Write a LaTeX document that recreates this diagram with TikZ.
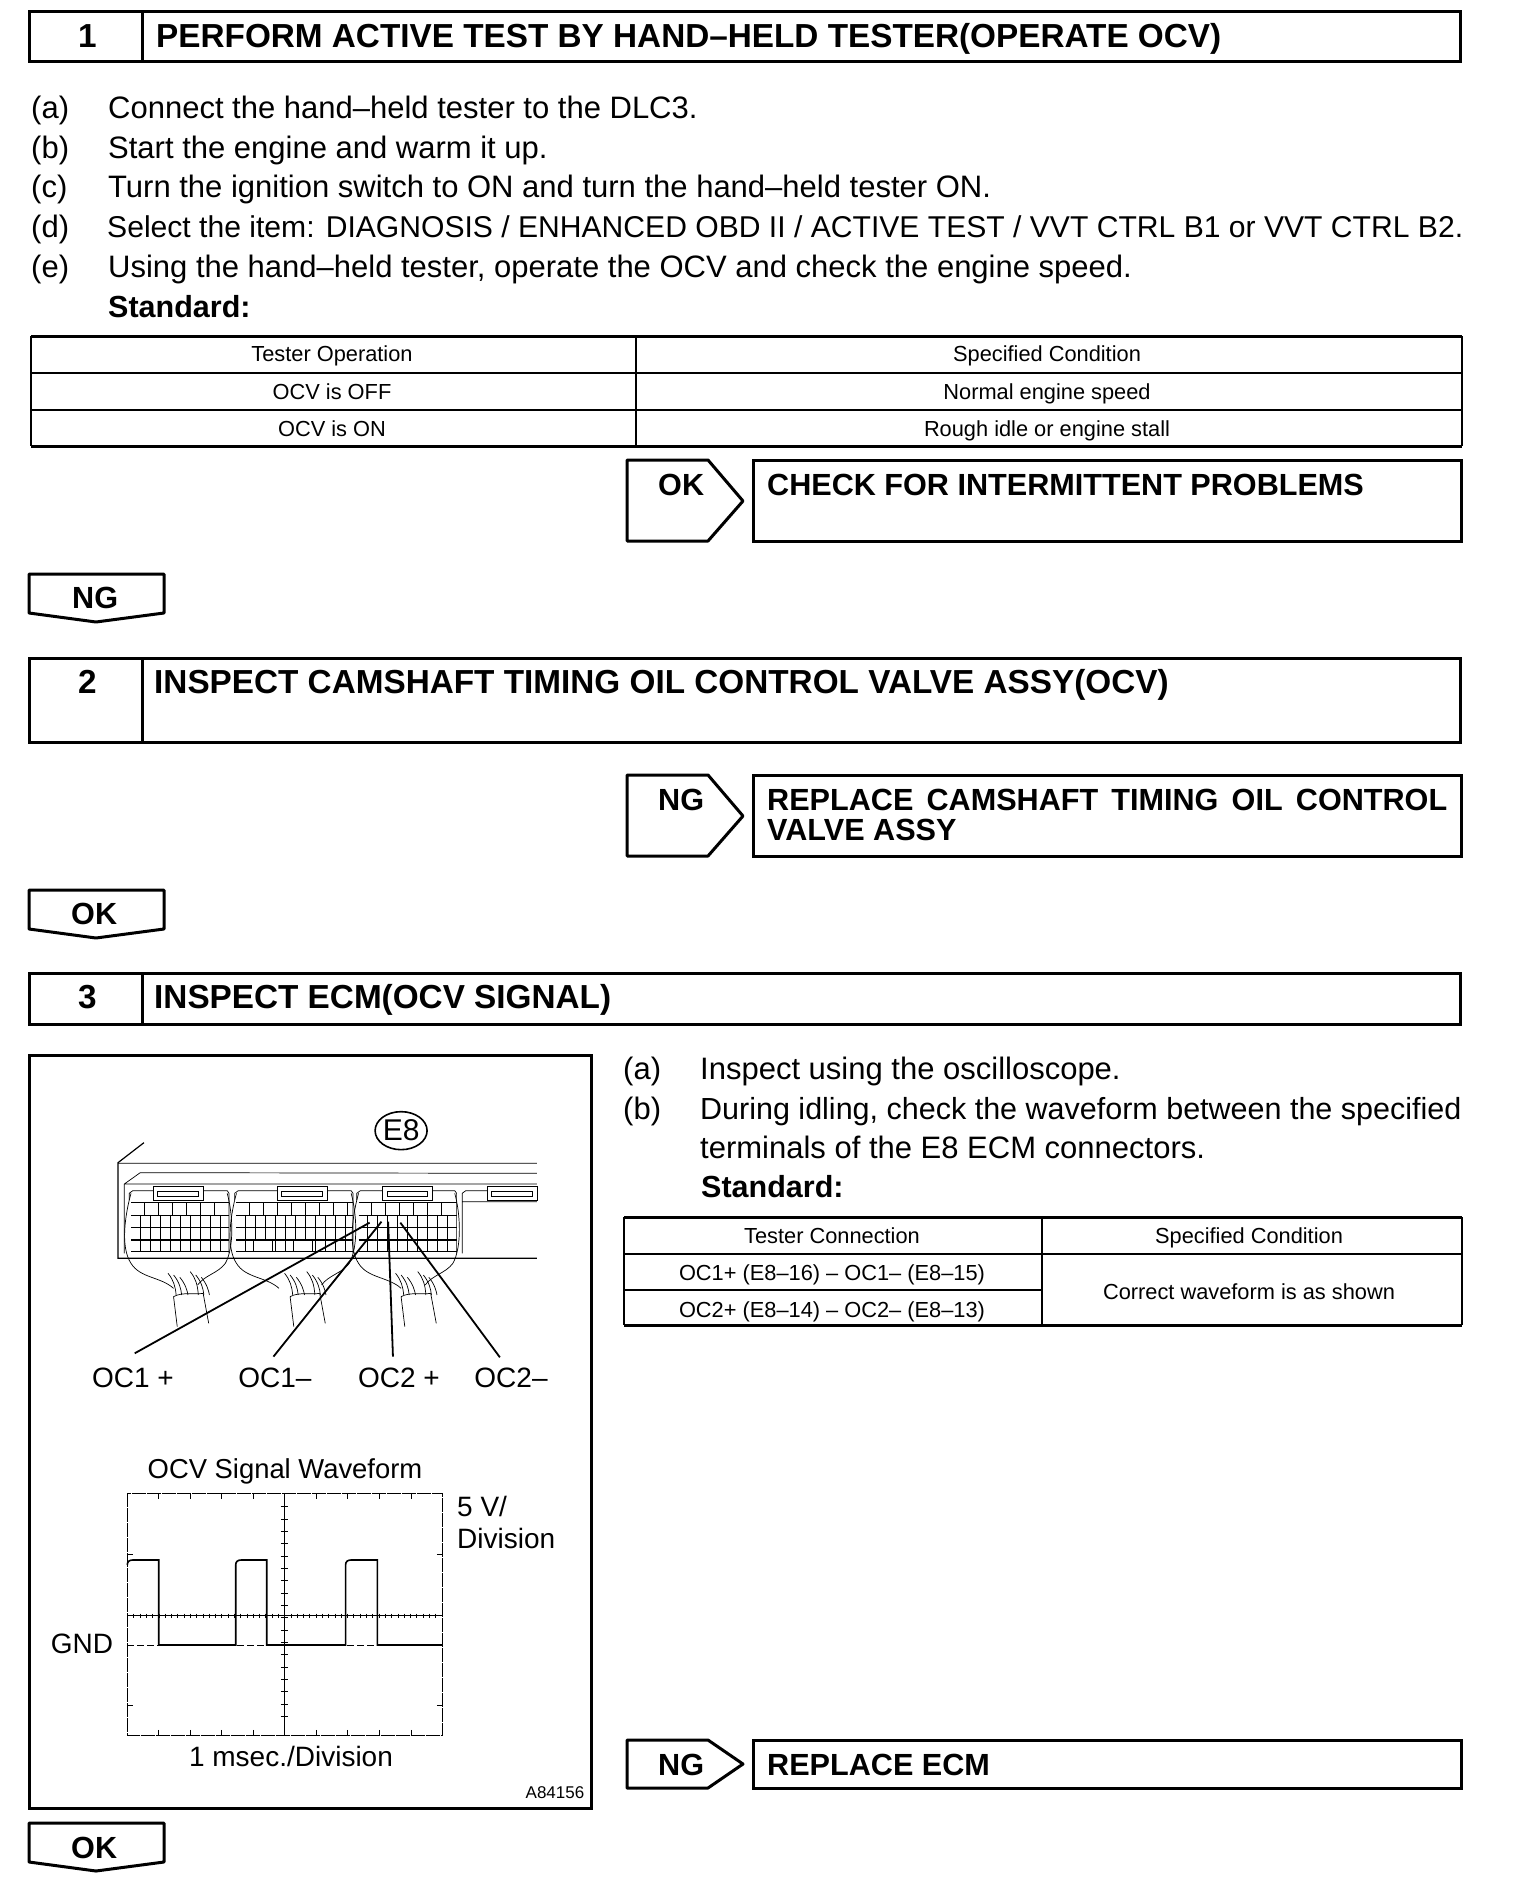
\documentclass[tikz,border=0pt]{standalone}
\usepackage{fontspec}
\setmainfont{Liberation Sans}
\usetikzlibrary{shapes.geometric}
\newcommand{\bodyfont}{\fontsize{31}{40}\selectfont}
\newcommand{\headfont}{\fontsize{33.3}{30}\selectfont\bfseries}
\newcommand{\resfont}{\fontsize{30.6}{30}\selectfont\bfseries}
\newcommand{\cellfont}{\fontsize{21.8}{26}\selectfont}
\newcommand{\labfont}{\fontsize{28}{28}\selectfont}
\tikzset{
    box/.style={line width=3pt, line join=miter},
    tag/.style={line width=3pt, line join=round},
    rule/.style={line width=2pt},
    txt/.style={anchor=base west, inner sep=0pt, font=\bodyfont},
    head/.style={anchor=base west, inner sep=0pt, font=\headfont},
    res/.style={anchor=base west, inner sep=0pt, font=\resfont},
    cell/.style={anchor=base, inner sep=0pt, font=\cellfont},
    lab/.style={anchor=center, inner sep=0pt, font=\labfont},
    lead/.style={line width=1.8pt},
    thin line/.style={line width=0.7pt},
}
\begin{document}
\begin{tikzpicture}[x=1pt, y=-1pt]
    \useasboundingbox (0,0) rectangle (1520,1902);

    % step 1
    \draw[box] (29,12) rectangle (1460,62);
    \draw[box] (142,12) -- (142,62);
    \node[head] (numa) at (78,48) {1};
    \node[head] (titlea) at (156,48) {PERFORM ACTIVE TEST BY HAND--HELD TESTER(OPERATE OCV)};
    \node[txt] (la) at (31,119) {(a)};
    \node[txt] (lb) at (31,159) {(b)};
    \node[txt] (lc) at (31,198) {(c)};
    \node[txt] (ld) at (31,238) {(d)};
    \node[txt] (le) at (31,277) {(e)};
    \node[txt] (ta) at (108,119) {Connect the hand--held tester to the DLC3.};
    \node[txt] (tb) at (108,159) {Start the engine and warm it up.};
    \node[txt] (tc) at (108,198) {Turn the ignition switch to ON and turn the hand--held tester ON.};
    \node[txt, font=\fontsize{30.1}{40}\selectfont] (td) at (107,238) {Select the item: DIAGNOSIS / ENHANCED OBD II / ACTIVE TEST / VVT CTRL B1 or VVT CTRL B2.};
    \node[txt] (te) at (108,277) {Using the hand--held tester, operate the OCV and check the engine speed.};
    \node[txt, font=\fontsize{30.5}{40}\selectfont\bfseries] (stda) at (108,317) {Standard:};

    % table 1
    \draw[box] (31,336) -- (1462,336) (31,446) -- (1462,446);
    \draw[rule] (31,336) -- (31,446) (1462,336) -- (1462,446) (636,336) -- (636,446);
    \draw[rule] (31,373) -- (1462,373) (31,410) -- (1462,410);
    \node[cell] (cella) at (332,361) {Tester Operation};
    \node[cell] (cellb) at (1047,361) {Specified Condition};
    \node[cell] (cellc) at (332,399) {OCV is OFF};
    \node[cell] (celld) at (1047,399) {Normal engine speed};
    \node[cell] (celle) at (332,436) {OCV is ON};
    \node[cell] (cellf) at (1047,436) {Rough idle or engine stall};

    \draw[tag] (627,460) -- (708,460) -- (743,501) -- (708,541) -- (627,541) -- cycle;
    \node[res] (oka) at (658,495) {OK};
    \draw[box] (753,460) rectangle (1461,541);
    \node[res] (checka) at (767,495) {CHECK FOR INTERMITTENT PROBLEMS};

    \draw[tag] (29,574) -- (164,574) -- (164,613) -- (96,622) -- (29,613) -- cycle;
    \node[res] (nga) at (72,608) {NG};

    % step 2
    \draw[box] (29,658) rectangle (1460,742);
    \draw[box] (142,658) -- (142,742);
    \node[head] (numb) at (78,693) {2};
    \node[head] (titleb) at (154,693) {INSPECT CAMSHAFT TIMING OIL CONTROL VALVE ASSY(OCV)};

    \draw[tag] (627,775) -- (708,775) -- (743,816) -- (708,856) -- (627,856) -- cycle;
    \node[res] (ngb) at (658,810) {NG};
    \draw[box] (753,775) rectangle (1461,856);
    \node[res, align=left] (replb) at (767,840) {\makebox[680pt][s]{REPLACE CAMSHAFT TIMING OIL CONTROL}\\VALVE ASSY};

    \draw[tag] (29,890) -- (164,890) -- (164,929) -- (96,938) -- (29,929) -- cycle;
    \node[res] (okb) at (71,924) {OK};

    % step 3
    \draw[box] (29,973) rectangle (1460,1024);
    \draw[box] (142,973) -- (142,1024);
    \node[head] (numc) at (78,1008) {3};
    \node[head] (titlec) at (154,1008) {INSPECT ECM(OCV SIGNAL)};

    \draw[box] (29,1055) rectangle (591,1808);

    % connector picture
    \begin{scope}[shift={(20,1040)}, x=0.37pt, y=-0.3333pt]
        \node[draw, ellipse, line width=1.6pt, inner sep=0pt, minimum width=52pt, minimum height=38pt, font=\fontsize{30}{30}\selectfont] (eight) at (1030,272) {E8};
        \draw[line width=1.2pt] (335,308) -- (265,368) -- (265,655) -- (1397,655);
        \draw[thin line] (265,370) -- (1397,370) (325,398) -- (1397,400) (325,398) -- (282,432) -- (282,640) (282,432) -- (1397,432);
        \foreach \cx/\cw/\lx/\sx in {285/265/360/0, 570/315/695/315, 900/265/980/615} {
            \begin{scope}[shift={(\cx,0)}]
                % latch and body outline
                \draw[thin line] (10,480) -- (10,460) -- (20,452) -- (\cw+10,452) -- (\cw+15,460) -- (\cw+15,640);
                \draw[thin line, fill=white] (\lx-\cx,440) rectangle (\lx-\cx+135,480);
                \draw[thin line] (\lx-\cx+12,455) rectangle (\lx-\cx+122,468);
                % cells
                \draw[thin line] (15,488) -- (\cw+15,488) (15,525) -- (\cw+15,525) (15,635) -- (\cw+15,635);
                \draw[line width=1.3pt] (15,563) -- (\cw+15,563) (15,600) -- (\cw+15,600);
                \pgfmathsetmacro{\topend}{\cw+10}
                \foreach \gx in {50,88,...,\topend} \draw[thin line] (\gx,488) -- (\gx,525);
                \foreach \gx in {40,67,...,\topend} \draw[thin line] (\gx,525) -- (\gx,635);
                % hood
                \draw[thin line] (15,460) .. controls (0,520) and (-15,620) .. (15,670) .. controls (40,715) and (95,710) .. (130,745);
                \draw[thin line] (\cw+10,460) .. controls (\cw+25,520) and (\cw+30,620) .. (\cw+5,670) .. controls (\cw-15,700) and (\cw-50,705) .. (\cw-70,735);
            \end{scope}
            \begin{scope}[shift={(\sx,0)}]
                % sleeve and wires
                \draw[thin line] (415,770) -- (425,860) (495,760) -- (510,850) (415,770) .. controls (440,755) and (470,765) .. (495,760);
                \foreach \wx/\wy in {400/700, 415/705, 432/712, 460/695, 475/705, 490/712}
                    \draw[thin line] (\wx,\wy) .. controls (\wx+15,\wy+20) and (\wx+20,\wy+40) .. (\wx+22,765);
            \end{scope}
        }
        % blocks left empty in the middle connector
        \draw[thin line, fill=white] (630,600) rectangle (682,635);
        \draw[thin line, fill=white] (738,600) rectangle (790,635);
        % fourth connector, cut at the edge
        \draw[thin line] (1195,640) -- (1195,460) -- (1205,452) -- (1397,452) (1197,485) -- (1397,485);
        \draw[thin line, fill=white] (1262,440) rectangle (1397,480);
        \draw[thin line] (1275,455) -- (1385,455) -- (1385,468) -- (1275,468) -- cycle;

        \coordinate (pina) at (945,548);
        \coordinate (pinb) at (977,545);
        \coordinate (pinc) at (995,545);
        \coordinate (pind) at (1028,548);
        \coordinate (enda) at (310,940);
        \coordinate (endb) at (685,950);
        \coordinate (endc) at (1008,950);
        \coordinate (endd) at (1297,952);
        \draw[lead] (pina) -- (enda);
        \draw[lead] (pinb) -- (endb);
        \draw[lead] (pinc) -- (endc);
        \draw[lead] (pind) -- (endd);
    \end{scope}
    \node[lab] (oca) at (133,1378) {OC1 +};
    \node[lab] (ocb) at (275,1378) {OC1--};
    \node[lab] (occ) at (399,1378) {OC2 +};
    \node[lab] (ocd) at (511,1378) {OC2--};

    % waveform
    \begin{scope}[shift={(20,1420)}, x=0.37pt, y=-0.3333pt]
        \draw[thin line, dash pattern=on 14pt off 1pt] (290,220) rectangle (1142,945);
        \draw[thin line] (715,220) -- (715,945) (290,587) -- (1142,587);
        \draw[thin line, dash pattern=on 7pt off 3pt] (290,677) -- (1142,677);
        \foreach \tx in {375,460,545,630,800,885,970,1057} \draw[thin line] (\tx,220) -- (\tx,236) (\tx,930) -- (\tx,945);
        \foreach \tx in {307,324,...,1130} \draw[line width=0.5pt] (\tx,581) -- (\tx,593);
        \foreach \ty in {260,297,...,920} \draw[line width=0.5pt] (705,\ty) -- (725,\ty);
        \draw[thin line] (290,403) -- (305,403) (1127,403) -- (1142,403) (290,857) -- (305,857) (1127,857) -- (1142,857);
        \draw[line width=1.6pt] (290,435) .. controls (290,425) and (295,420) .. (305,420) -- (375,420) -- (375,675) -- (583,675) -- (583,435) .. controls (583,425) and (588,420) .. (598,420) -- (667,420) -- (667,675) -- (880,675) -- (880,435) .. controls (880,425) and (885,420) .. (895,420) -- (966,420) -- (966,675) -- (1142,675);
    \end{scope}
    \node[lab, font=\fontsize{27.4}{28}\selectfont] (wavet) at (285,1471) {OCV Signal Waveform};
    \node[lab, anchor=west] (fivev) at (457,1506) {5 V/};
    \node[lab, anchor=west] (divv) at (457,1538) {Division};
    \node[lab] (gnd) at (82,1644) {GND};
    \node[lab] (mdiv) at (291,1756) {1 msec./Division};
    \node[lab, font=\fontsize{17}{17}\selectfont] (refno) at (555,1793) {A84156};

    % right column
    \node[txt] (ra) at (623,1079) {(a)};
    \node[txt] (rb) at (623,1119) {(b)};
    \node[txt] (rta) at (700,1079) {Inspect using the oscilloscope.};
    \node[txt, font=\fontsize{30.5}{40}\selectfont] (rtb) at (700,1119) {During idling, check the waveform between the specified};
    \node[txt] (rtc) at (700,1158) {terminals of the E8 ECM connectors.};
    \node[txt, font=\fontsize{30.5}{40}\selectfont\bfseries] (stdb) at (701,1197) {Standard:};

    % table 2
    \draw[box] (624,1217) -- (1462,1217) (624,1325) -- (1462,1325);
    \draw[rule] (624,1217) -- (624,1325) (1462,1217) -- (1462,1325) (1042,1217) -- (1042,1325);
    \draw[rule] (624,1254) -- (1462,1254) (624,1290) -- (1042,1290);
    \node[cell] (cellg) at (832,1243) {Tester Connection};
    \node[cell] (cellh) at (1249,1243) {Specified Condition};
    \node[cell] (celli) at (832,1280) {OC1+ (E8--16) -- OC1-- (E8--15)};
    \node[cell] (cellj) at (832,1317) {OC2+ (E8--14) -- OC2-- (E8--13)};
    \node[cell] (cellk) at (1249,1299) {Correct waveform is as shown};

    \draw[tag] (627,1740) -- (708,1740) -- (743,1764) -- (708,1788) -- (627,1788) -- cycle;
    \node[res] (ngc) at (658,1775) {NG};
    \draw[box] (753,1740) rectangle (1461,1788);
    \node[res] (replc) at (767,1775) {REPLACE ECM};

    \draw[tag] (29,1823) -- (164,1823) -- (164,1862) -- (96,1871) -- (29,1862) -- cycle;
    \node[res] (okc) at (71,1858) {OK};
\end{tikzpicture}
\end{document}
